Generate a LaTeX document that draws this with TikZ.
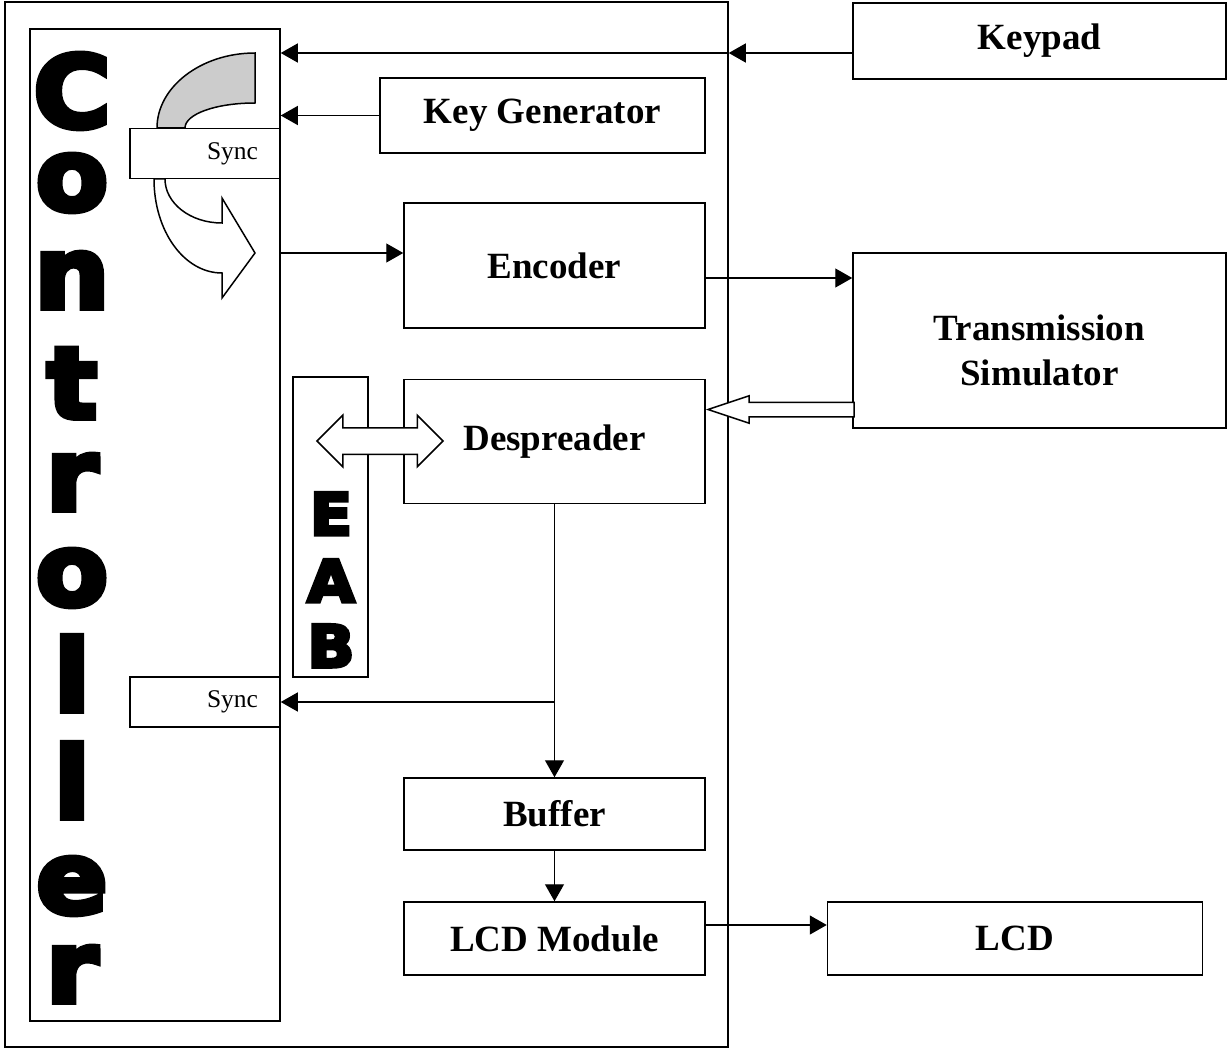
\documentclass[tikz,border=0pt]{standalone}
\usepackage{fontspec}
\setmainfont{Liberation Serif}
\newfontfamily\heavyfont[UprightFont=* Bold,FakeBold=6,FakeStretch=1.06]{DejaVu Sans}
\usetikzlibrary{arrows.meta,positioning,shapes.arrows,calc}
\definecolor{SyncGray}{HTML}{CCCCCC}
\tikzset{
  blockbox/.style={draw=black,line width=1.5pt,fill=white,align=center,inner sep=0pt,font=\fontsize{37}{45}\selectfont\bfseries},
  blocktext/.style={align=center,inner sep=0pt,font=\fontsize{37}{45}\selectfont\bfseries},
  syncbox/.style={draw=black,line width=1.5pt,fill=white,minimum width=150pt,minimum height=50pt,inner xsep=22pt,inner ysep=0pt,text width=106pt,align=right,font=\fontsize{25.5}{30}\selectfont},
  ctrlletter/.style={anchor=base,inner sep=0pt,font=\fontsize{99}{99}\heavyfont},
  eabletter/.style={anchor=base,inner sep=0pt,font=\fontsize{58}{58}\heavyfont},
  flowarrow/.style={-{Triangle[length=17pt,width=19pt]},line width=1.3pt,draw=black},
  hollowarrow/.style={draw=black,line width=1.5pt,fill=white,inner xsep=0pt},
  bendshape/.style={draw=black,line width=1.5pt}
}

\begin{document}
\begin{tikzpicture}[x=1pt,y=-1pt,node distance=50pt and 121pt]
\useasboundingbox (0,0) rectangle (1227,1051);

% system frame and controller column
\node[blockbox,minimum width=723pt,minimum height=1045pt] (sysframe) at (366.5,524.5) {};
\node[blockbox,minimum width=250pt,minimum height=992pt] (ctrl) at (155,525) {};
\foreach \ch/\yb [count=\i] in {C/127,o/210,n/308,t/418,r/510,o/605,l/711,l/818,e/913,r/1002}
  \node[ctrlletter] (ctrl-\i) at (72,\yb) {\ch};

% EAB column
\node[blockbox,minimum width=75pt,minimum height=300pt] (eab) at (330.5,527) {};
\foreach \ch/\yb [count=\i] in {E/535,A/602,B/667}
  \node[eabletter] (eab-\i) at (331,\yb) {\ch};

% blocks
\node[blockbox,minimum width=373pt,minimum height=76pt] (keypad) at (1039.5,41) {Keypad};
\node[blockbox,minimum width=325pt,minimum height=75pt] (keygen) at (542.5,115.5) {Key Generator};
\node[blockbox,minimum width=301pt,minimum height=125pt] (encoder) at (554.5,265.5) {Encoder};
\node[blockbox,minimum width=373pt,minimum height=175pt] (tsim) at (1039.5,340.5) {};
\node[blocktext] (tsimtext) at ([yshift=-10pt]tsim.center) {Transmission\\Simulator};
\node[blockbox,minimum width=301pt,minimum height=124pt,below=of encoder] (desp) {Despreader};
\node[blockbox,minimum width=301pt,minimum height=72pt] (buffer) at (554.5,814) {Buffer};
\node[blockbox,minimum width=301pt,minimum height=73pt] (lcdmod) at (554.5,938.5) {LCD Module};
\node[blockbox,minimum width=375pt,minimum height=73pt,right=of lcdmod] (lcd) {LCD};

% curved sync arrow (gray top, white bottom)
\path[bendshape,fill=SyncGray] (255,53) -- (255,103) .. controls (216,103) and (185,114) .. (185,128)
  -- (157,128) .. controls (157,87) and (201,53) .. (255,53) -- cycle;
\path[bendshape,fill=white] (154,179) .. controls (154,231) and (184,273) .. (222,273)
  -- (222,298) -- (255,253) -- (222,198) -- (222,223)
  .. controls (190,223) and (165,203) .. (165,179) -- cycle;
\node[syncbox] (sync1) at (205,153.5) {Sync};
\node[syncbox] (sync2) at (205,702) {Sync};

% hollow arrows
\node[hollowarrow,double arrow,double arrow head extend=12.5pt,inner ysep=12.5pt,minimum height=126pt] (eablink) at (380,441) {};
\coordinate (rxline) at ([yshift=-69pt]tsim.west);
\node[hollowarrow,single arrow,shape border rotate=180,single arrow head extend=6.5pt,single arrow tip angle=37,inner ysep=6.5pt,minimum height=146pt,anchor=tip] (rxlink) at (rxline -| desp.east) {};

% connectors
\coordinate (kpline) at ([yshift=-12pt]keypad.west);
\draw[flowarrow] (kpline) -- (kpline -| sysframe.east);
\draw[flowarrow] (kpline -| sysframe.east) -- (kpline -| ctrl.east);
\draw[flowarrow] (keygen.west) -- (keygen.west -| ctrl.east);
\coordinate (encin) at ([yshift=12.5pt]encoder.west);
\draw[flowarrow] (encin -| ctrl.east) -- (encin);
\coordinate (encout) at ([yshift=-12.5pt]encoder.east);
\draw[flowarrow] (encout) -- (encout -| tsim.west);
\coordinate (tap) at (desp.south |- sync2.east);
\draw[flowarrow] (desp.south) -- (buffer.north);
\draw[flowarrow] (tap) -- (sync2.east);
\draw[flowarrow] (buffer.south) -- (lcdmod.north);
\coordinate (lcdout) at ([yshift=13.5pt]lcdmod.east);
\draw[flowarrow] (lcdout) -- (lcdout -| lcd.west);
\end{tikzpicture}
\end{document}
